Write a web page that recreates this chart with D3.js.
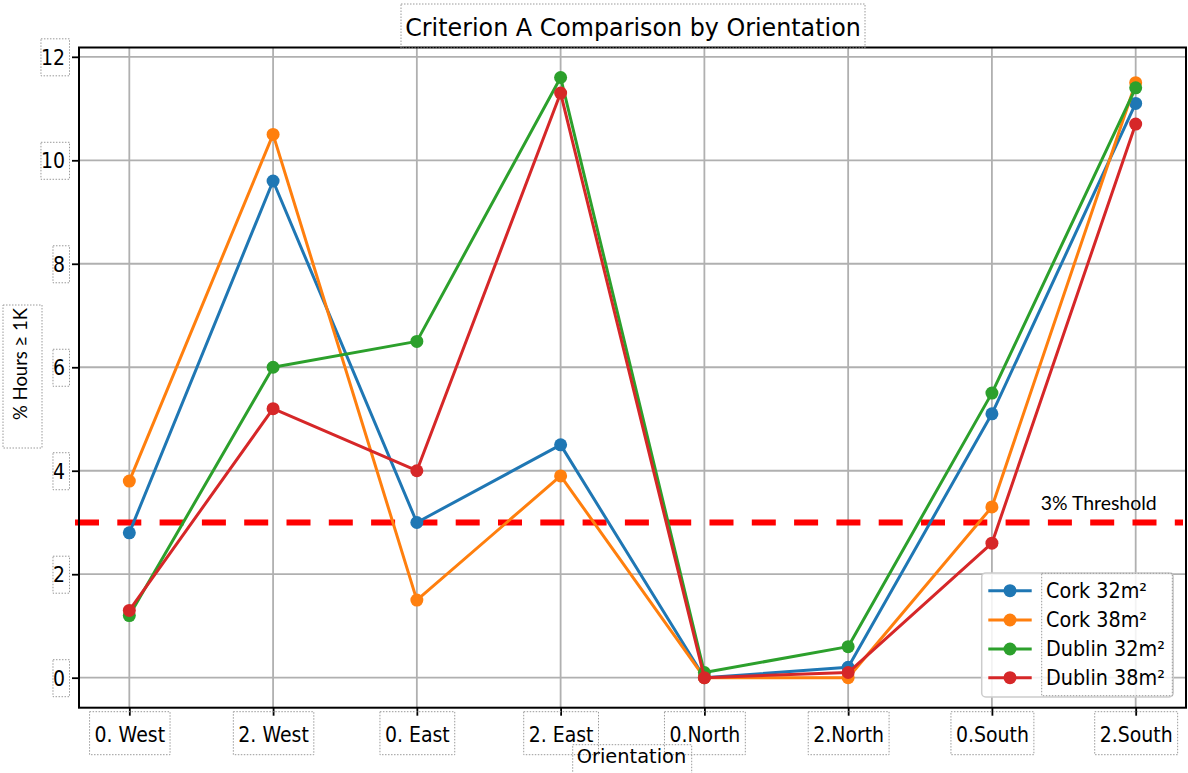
<!DOCTYPE html>
<html>
<head>
<meta charset="utf-8">
<script src="https://cdn.jsdelivr.net/npm/d3@7"></script>
<style>
  html, body { margin: 0; padding: 0; background: #fff; }
  svg { display: block; }
  text { font-family: "DejaVu Sans", sans-serif; fill: #000; }
</style>
</head>
<body>
<svg id="chart" width="1188" height="773"></svg>
<script>
// Orientation categories along the x axis
const categories = ["0. West", "2. West", "0. East", "2. East", "0.North", "2.North", "0.South", "2.South"];

// % of hours at or above 1 K, one array per scenario
const cork32   = [2.8, 9.6, 3.0, 4.5, 0.0, 0.2, 5.1, 11.1];
const cork38   = [3.8, 10.5, 1.5, 3.9, 0.0, 0.0, 3.3, 11.5];
const dublin32 = [1.2, 6.0, 6.5, 11.6, 0.1, 0.6, 5.5, 11.4];
const dublin38 = [1.3, 5.2, 4.0, 11.3, 0.0, 0.1, 2.6, 10.7];

const seriesNames  = ["Cork 32m²", "Cork 38m²", "Dublin 32m²", "Dublin 38m²"];
const seriesColors = ["#1f77b4", "#ff7f0e", "#2ca02c", "#d62728"];
const seriesValues = [cork32, cork38, dublin32, dublin38];

const yTicks = [0, 2, 4, 6, 8, 10, 12];
const threshold = 3;
const thresholdLabel = "3% Threshold";

const titleText = "Criterion A Comparison by Orientation";
const xLabelText = "Orientation";
const yLabelText = "% Hours ≥ 1K";

const svg = d3.select("#chart");

// plot frame
const plotLeft = 79, plotRight = 1186, plotTop = 47.5, plotBottom = 707.7;

const x = d3.scaleLinear().domain([-0.35, categories.length - 1 + 0.35]).range([plotLeft, plotRight]);
const y = d3.scaleLinear().domain([-0.58, 12.18]).range([plotBottom, plotTop]);

const boxStyle = sel => sel.attr("fill", "none").attr("stroke", "#9a9a9a")
  .attr("stroke-width", 1).attr("stroke-dasharray", "1.5,1.5");

// slightly condensed text: glyphs drawn at `size`, squeezed to the width they take at `widthSize`
function condensed(sel, size, widthSize) {
  sel.each(function () {
    const t = d3.select(this).style("font-size", widthSize + "px");
    const w = this.getComputedTextLength();
    t.style("font-size", size + "px").attr("textLength", w).attr("lengthAdjust", "spacingAndGlyphs");
  });
}

// grid
const grid = svg.append("g");
grid.selectAll("line.vx").data(categories).join("line")
  .attr("x1", (d, i) => x(i)).attr("x2", (d, i) => x(i))
  .attr("y1", plotTop).attr("y2", plotBottom)
  .attr("stroke", "#b0b0b0").attr("stroke-width", 1.8);
grid.selectAll("line.hy").data(yTicks).join("line")
  .attr("x1", plotLeft).attr("x2", plotRight)
  .attr("y1", d => y(d)).attr("y2", d => y(d))
  .attr("stroke", "#b0b0b0").attr("stroke-width", 1.8);

// threshold line (under the data)
svg.append("line")
  .attr("x1", 75).attr("x2", 1183)
  .attr("y1", y(threshold)).attr("y2", y(threshold))
  .attr("stroke", "#ff0000").attr("stroke-width", 6)
  .attr("stroke-dasharray", "24,18.3");

svg.append("text")
  .attr("x", 1040.7).attr("y", 510)
  .style("font-family", "Lato, 'Open Sans', sans-serif")
  .style("font-size", "19.5px")
  .attr("textLength", 116).attr("lengthAdjust", "spacingAndGlyphs")
  .text(thresholdLabel);

// series
const line = d3.line().x((d, i) => x(i)).y(d => y(d));
seriesValues.forEach((vals, k) => {
  const g = svg.append("g");
  g.append("path").datum(vals).attr("d", line)
    .attr("fill", "none").attr("stroke", seriesColors[k]).attr("stroke-width", 3)
    .attr("stroke-linejoin", "round");
  g.selectAll("circle").data(vals).join("circle")
    .attr("cx", (d, i) => x(i)).attr("cy", d => y(d)).attr("r", 6.5)
    .attr("fill", seriesColors[k]);
});

// axes
const yAxis = svg.append("g").attr("transform", `translate(${plotLeft},0)`)
  .call(d3.axisLeft(y).tickValues(yTicks).tickSize(7).tickPadding(7).tickFormat(d3.format("d")));
const xAxis = svg.append("g").attr("transform", `translate(0,${plotBottom})`)
  .call(d3.axisBottom(x).tickValues(d3.range(categories.length)).tickSize(8).tickPadding(10)
    .tickFormat(i => categories[i]));
[xAxis, yAxis].forEach(a => {
  a.select(".domain").remove();
  a.selectAll(".tick line").attr("stroke", "#000").attr("stroke-width", 1.8);
  a.selectAll(".tick text").style("font-family", "'DejaVu Sans', sans-serif").attr("fill", "#000")
    .call(condensed, 20.6, 18.9);
});
yAxis.selectAll(".tick text").attr("x", -14).attr("dy", "0.36em");
xAxis.selectAll(".tick text").attr("y", 34.8).attr("dy", null);

// dotted boxes around tick labels
yAxis.selectAll(".tick").each(function () {
  const w = +d3.select(this).select("text").attr("textLength");
  d3.select(this).append("rect")
    .attr("x", -10 - w - 4).attr("y", -18.5).attr("width", w + 4 + 0.5).attr("height", 37)
    .call(boxStyle);
});
xAxis.selectAll(".tick").each(function () {
  const w = +d3.select(this).select("text").attr("textLength");
  d3.select(this).append("rect")
    .attr("x", -w / 2 - 5).attr("y", 4).attr("width", w + 10).attr("height", 43)
    .call(boxStyle);
});

// spines
svg.append("rect").attr("x", plotLeft).attr("y", plotTop)
  .attr("width", plotRight - plotLeft).attr("height", plotBottom - plotTop)
  .attr("fill", "none").attr("stroke", "#000").attr("stroke-width", 2);

// title
svg.append("text").attr("x", 633).attr("y", 36)
  .attr("text-anchor", "middle").text(titleText).call(condensed, 24.2, 23.8);
svg.append("rect").attr("x", 401).attr("y", 4).attr("width", 464).attr("height", 44).call(boxStyle);

// axis labels
svg.append("text").attr("x", 631.5).attr("y", 763)
  .attr("text-anchor", "middle").text(xLabelText).call(condensed, 20, 19.4);
svg.append("rect").attr("x", 572.7).attr("y", 744.7).attr("width", 119).attr("height", 40).call(boxStyle);

svg.append("text")
  .attr("transform", "translate(27,364) rotate(-90)")
  .attr("text-anchor", "middle")
  .style("font-family", "Lato, 'Open Sans', sans-serif").style("font-size", "19.5px")
  .attr("textLength", 112).attr("lengthAdjust", "spacingAndGlyphs")
  .text(yLabelText);
svg.append("rect").attr("x", 3).attr("y", 305).attr("width", 39).attr("height", 143).call(boxStyle);

// legend
const lg = svg.append("g");
lg.append("rect").attr("x", 981.7).attr("y", 573).attr("width", 191.5).attr("height", 124)
  .attr("rx", 4).attr("fill", "#fff").attr("fill-opacity", 0.85)
  .attr("stroke", "#cccccc").attr("stroke-width", 1.5);
const rowY = [590.7, 620, 649, 677.7];
seriesNames.forEach((name, k) => {
  lg.append("line").attr("x1", 988.3).attr("x2", 1031.7)
    .attr("y1", rowY[k]).attr("y2", rowY[k])
    .attr("stroke", seriesColors[k]).attr("stroke-width", 3);
  lg.append("circle").attr("cx", 1010).attr("cy", rowY[k]).attr("r", 6.5).attr("fill", seriesColors[k]);
  lg.append("text").attr("x", 1046).attr("y", rowY[k] + 7.3).text(name).call(condensed, 20.6, 19.2);
});
lg.append("rect").attr("x", 1041.7).attr("y", 573.3).attr("width", 130.6).attr("height", 122.4).call(boxStyle);
</script>
</body>
</html>
